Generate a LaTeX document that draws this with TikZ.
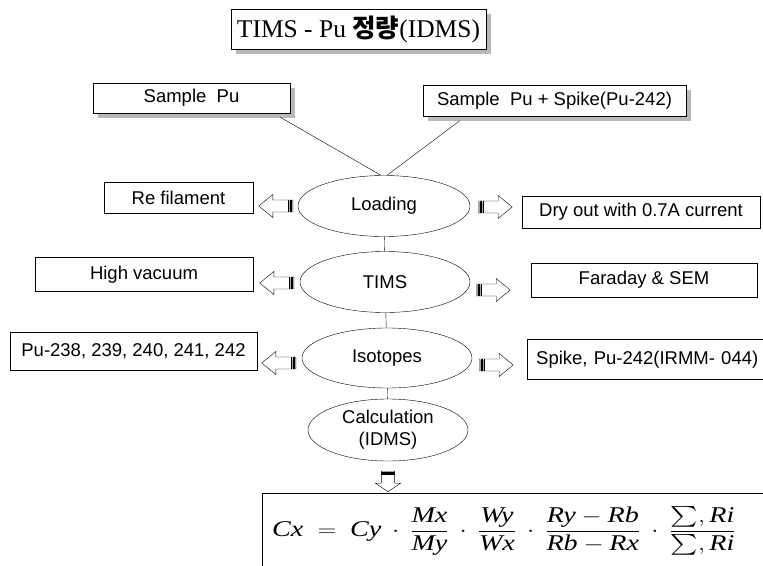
\documentclass[tikz,border=0pt]{standalone}
\usepackage{fontspec}
\setmainfont{Liberation Serif}
\newfontfamily\arial{Liberation Sans}
\newfontfamily\kr{Noto Sans CJK KR}
\usepackage{amsmath}
\usepackage{graphicx}
\usetikzlibrary{shapes.geometric}
\usetikzlibrary{shadows}

\newcommand{\dotsep}{\hspace{0.38em}$\cdot$\hspace{0.38em}}

\tikzset{
	box/.style={draw,rectangle,inner sep=0pt,font=\arial\fontsize{18.5}{21}\selectfont},
	shbox/.style={box,fill=white,drop shadow={shadow xshift=4.5pt,shadow yshift=-4.5pt,fill=gray!55,opacity=1}},
	stage/.style={draw,ellipse,inner sep=0pt,font=\arial\fontsize{18.5}{22}\selectfont,align=center},
	hollow/.pic={
		\draw[fill=white] (0,-6) -- (20,-6) -- (20,-11.5) -- (34,0) -- (20,11.5) -- (20,6) -- (0,6) -- cycle;
		\fill[gray!70] (0.5,-5.5) rectangle (5,5.5);
		\foreach \s in {1.5,3,4.5}
			\draw[very thin] (\s,-6) -- (\s,6);
	}
}

\begin{document}
\begin{tikzpicture}[x=1pt,y=-1pt]
	\useasboundingbox (0,0) rectangle (763,565);
	\clip (0,0) rectangle (763,565);
	% title
	\node[shbox,minimum width=255,minimum height=40,font=\fontsize{25.5}{28}\selectfont] (title) at (358.5,29.5) {TIMS - Pu {\kr\bfseries 정량}(IDMS)};
	% samples
	\node[shbox,minimum width=197,minimum height=30] (sample) at (191.5,98) {Sample\ \ Pu};
	\node[shbox,minimum width=263,minimum height=31] (spike) at (554.5,101) {Sample\ \ Pu + Spike(Pu-242)};
	% main stages
	\node[stage,minimum width=172,minimum height=61] (load) at (384,206) {Loading};
	\node[stage,minimum width=170,minimum height=61] (tims) at (385,282) {TIMS};
	\node[stage,minimum width=170,minimum height=60] (iso) at (387,358) {Isotopes};
	\node[stage,minimum width=160,minimum height=62] (calc) at (388,430) {Calculation\\(IDMS)};
	% side boxes
	\node[box,minimum width=149,minimum height=31] (refil) at (178.5,198) {Re filament};
	\node[box,minimum width=238,minimum height=32] (dry) at (641,212) {Dry out with 0.7A current};
	\node[box,minimum width=218,minimum height=34] (vac) at (144,274.5) {High vacuum};
	\node[box,minimum width=226,minimum height=34] (fara) at (644,280) {Faraday \& SEM};
	\node[box,minimum width=247,minimum height=38] (puiso) at (133.5,351.5) {Pu-238, 239, 240, 241, 242};
	\node[box,anchor=west,minimum width=260,minimum height=40,inner xsep=9pt,text width=242,align=left] (spkiso) at (527,359.5) {Spike, Pu-242(IRMM- 044)};
	% formula
	\node[box,anchor=north west,minimum width=540,minimum height=76,inner xsep=4pt,text width=520,align=left,font=\fontsize{22.5}{26}\selectfont] (eq) at (262,493)
		{\scalebox{1.25}[1]{\textit{Cx}\enspace$=$\enspace\textit{Cy}\dotsep
		$\dfrac{\textit{Mx}}{\textit{My}}$\dotsep
		$\dfrac{\textit{Wy}}{\textit{Wx}}$\dotsep
		$\dfrac{\textit{Ry}-\textit{Rb}}{\textit{Rb}-\textit{Rx}}$\dotsep
		$\dfrac{\sum,\textit{Ri}}{\sum,\textit{Ri}}$}};
	% connectors
	\draw (sample.south east) ++(-10,4) coordinate (s1);
	\draw (s1) -- ([xshift=-3pt]load.north);
	\draw (spike.south west) ++(37,4) coordinate (s2);
	\draw (s2) -- ([xshift=3pt]load.north);
	\draw (load) -- (tims);
	\draw (tims) -- (iso);
	\draw (iso) -- (calc);
	% hollow arrows
	\pic[rotate=180] at ([xshift=-5pt]load.west) {hollow};
	\pic at ([xshift=8pt,yshift=-1pt]load.east) {hollow};
	\pic[rotate=180] at ([xshift=-6pt,yshift=-1pt]tims.west) {hollow};
	\pic at ([xshift=6pt,yshift=-8pt]tims.east) {hollow};
	\pic[rotate=180] at ([xshift=-6pt,yshift=-5pt]iso.west) {hollow};
	\pic at ([xshift=7pt,yshift=-7pt]iso.east) {hollow};
	\pic[rotate=-90,xscale=0.6,yscale=1.1] at ([yshift=-10pt]calc.south) {hollow};
\end{tikzpicture}
\end{document}
